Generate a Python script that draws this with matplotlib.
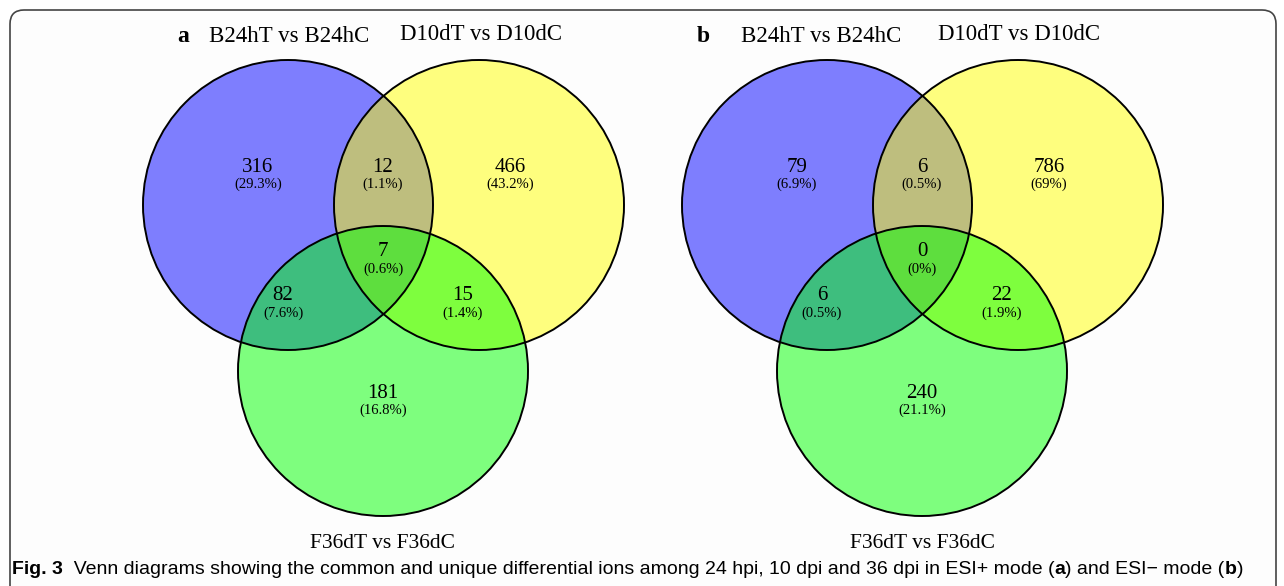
import matplotlib.pyplot as plt
from matplotlib.patches import Circle, FancyBboxPatch

# set names
set_a = "B24hT vs B24hC"
set_b = "D10dT vs D10dC"
set_c = "F36dT vs F36dC"

# region order: A only, AB, B only, ABC, AC, BC, C only
regions = ["A", "AB", "B", "ABC", "AC", "BC", "C"]
counts_pos = [316, 12, 466, 7, 82, 15, 181]
pct_pos = ["29.3%", "1.1%", "43.2%", "0.6%", "7.6%", "1.4%", "16.8%"]
counts_neg = [79, 6, 786, 0, 6, 22, 240]
pct_neg = ["6.9%", "0.5%", "69%", "0%", "0.5%", "1.9%", "21.1%"]

# caption pieces (text, weight)
caption = [("Fig. 3", "bold"),
           ("  Venn diagrams showing the common and unique differential ions among 24 hpi, "
            "10 dpi and 36 dpi in ESI+ mode (", "normal"),
           ("a", "bold"), (") and ESI\u2212 mode (", "normal"), ("b", "bold"), (")", "normal")]

serif = ["Liberation Serif", "DejaVu Serif"]
sans = ["Liberation Sans", "DejaVu Sans"]

fig = plt.figure(figsize=(12.84, 5.86), dpi=100)
ax = fig.add_axes([0, 0, 1, 1])
ax.set_xlim(0, 1284)
ax.set_ylim(586, 0)
ax.set_aspect("equal")
ax.axis("off")

# frame of the figure
box = FancyBboxPatch((10, 10), 1266, 600, boxstyle="round,pad=0,rounding_size=14",
                     fc="#fdfdfd", ec="#444444", lw=1.2, zorder=0)
ax.add_patch(box)

R = 145
# label offsets relative to the green circle centre x
label_pos = {"A": (-125, 167), "AB": (0, 167), "B": (127, 167), "ABC": (0, 252),
             "AC": (-100, 296), "BC": (80, 296), "C": (0, 393)}


def venn(cx, letter, counts, pcts, title_off):
    centres = [(cx - 95, 205), (cx + 96, 205), (cx, 371)]
    cols = ["#0000ff", "#ffff00", "#00ff00"]
    for (x, y), c in zip(centres, cols):
        ax.add_patch(Circle((x, y), R, fc=c, alpha=0.5, ec="none", zorder=1))
    for (x, y) in centres:
        ax.add_patch(Circle((x, y), R, fc="none", ec="black", lw=1.4, zorder=2))
    for reg, n, p in zip(regions, counts, pcts):
        dx, y = label_pos[reg]
        ax.text(cx + dx, y, str(n), ha="center", va="center", fontsize=15,
                family=serif, zorder=3)
        ax.text(cx + dx, y + 17, "(" + p + ")", ha="center", va="center",
                fontsize=10.5, family=serif, zorder=3)
    ax.text(cx + title_off[0], 37, letter, ha="center", va="center", fontsize=17,
            fontweight="bold", family=serif)
    ax.text(cx + title_off[1], 37, set_a, ha="center", va="center", fontsize=16.5, family=serif)
    ax.text(cx + title_off[2], 35, set_b, ha="center", va="center", fontsize=16.5, family=serif)
    ax.text(cx, 543, set_c, ha="center", va="center", fontsize=15.5, family=serif)


venn(383, "a", counts_pos, pct_pos, (-200, -94, 98))
venn(922, "b", counts_neg, pct_neg, (-219, -101, 97))

# caption, drawn piece by piece so the panel letters can be bold
prev = ax.text(12, 570, caption[0][0], ha="left", va="center", fontsize=14,
               fontweight=caption[0][1], family=sans)
for s, w in caption[1:]:
    prev = ax.annotate(s, xycoords=prev, xy=(1, 0.5), va="center", ha="left",
                       fontsize=14, fontweight=w, family=sans)

fig.savefig("out.png", dpi=100)
